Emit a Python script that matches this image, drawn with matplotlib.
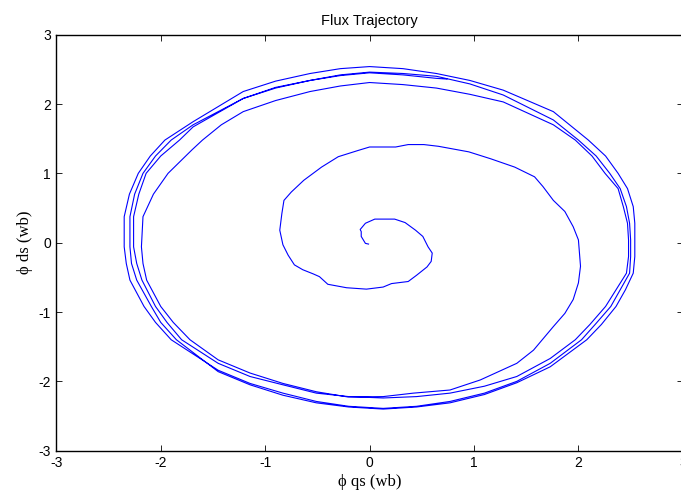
import matplotlib
matplotlib.use("Agg")
import matplotlib.pyplot as plt
import numpy as np

plt.rcParams['axes.unicode_minus'] = False

# trajectory, clockwise from the centre outwards
inner_x = [-0.01, -0.04, -0.06, -0.08, -0.08, -0.09, -0.04, 0.05, 0.24, 0.34, 0.44, 0.51,
           0.56, 0.60, 0.59, 0.55, 0.45, 0.37, 0.21, 0.13, -0.03, -0.22, -0.40, -0.48,
           -0.54, -0.64, -0.72, -0.78, -0.83, -0.86]
inner_y = [-0.02, -0.01, 0.04, 0.09, 0.16, 0.19, 0.28, 0.34, 0.34, 0.29, 0.18, 0.09,
           -0.06, -0.15, -0.27, -0.35, -0.47, -0.56, -0.59, -0.64, -0.67, -0.65, -0.60, -0.49,
           -0.45, -0.39, -0.32, -0.18, -0.03, 0.18]

loop1_x = [-0.84, -0.82, -0.75, -0.63, -0.46, -0.30, -0.11, 0.00, 0.25, 0.37, 0.52, 0.66,
           0.95, 1.16, 1.39, 1.58, 1.66, 1.76, 1.87, 1.95, 2.00, 2.02, 2.00, 1.95, 1.87,
           1.76, 1.57, 1.41, 1.06, 0.77, 0.42, 0.13, -0.21, -0.51, -0.83, -1.145, -1.45,
           -1.72, -1.88, -2.00, -2.135, -2.17, -2.185, -2.17, -2.07, -1.93, -1.70, -1.60,
           -1.42, -1.21, -0.90, -0.57, -0.28]
loop1_y = [0.42, 0.61, 0.73, 0.90, 1.09, 1.24, 1.33, 1.38, 1.38, 1.415, 1.415, 1.39,
           1.31, 1.21, 1.09, 0.95, 0.81, 0.61, 0.45, 0.23, 0.04, -0.34, -0.58, -0.82, -1.02,
           -1.21, -1.55, -1.74, -1.98, -2.125, -2.17, -2.22, -2.225, -2.15, -2.03, -1.88, -1.69,
           -1.40, -1.15, -0.92, -0.54, -0.30, -0.06, 0.375, 0.70, 1.00, 1.34, 1.48,
           1.70, 1.89, 2.05, 2.18, 2.26]

loop2_x = [0.00, 0.32, 0.64, 0.96, 1.28, 1.76, 1.97, 2.13, 2.255, 2.38, 2.43, 2.47, 2.48,
           2.48, 2.46, 2.36, 2.26, 2.11, 1.97, 1.73, 1.41, 1.10, 0.77, 0.45, 0.13, -0.20,
           -0.51, -0.83, -1.145, -1.45, -1.80, -1.94, -2.05, -2.18, -2.23, -2.26, -2.26,
           -2.21, -2.14, -2.00, -1.82, -1.69, -1.21, -0.90, -0.57, -0.28]
loop2_y = [2.31, 2.28, 2.23, 2.14, 2.03, 1.70, 1.48, 1.25, 1.00, 0.78, 0.52, 0.28, 0.04,
           -0.20, -0.44, -0.68, -0.92, -1.18, -1.40, -1.67, -1.93, -2.07, -2.17, -2.22, -2.24, -2.22,
           -2.17, -2.05, -1.93, -1.74, -1.40, -1.15, -0.92, -0.54, -0.30, -0.06, 0.375,
           0.70, 1.00, 1.25, 1.48, 1.67, 2.08, 2.23, 2.34, 2.42]

loop3_x = [0.00, 0.32, 0.64, 0.96, 1.28, 1.76, 2.00, 2.17, 2.30, 2.40, 2.46, 2.49, 2.50,
           2.50, 2.49, 2.40, 2.31, 2.16, 2.03, 1.73, 1.41, 1.10, 0.77, 0.45, 0.13, -0.20,
           -0.51, -0.83, -1.145, -1.45, -1.90, -2.05, -2.16, -2.295, -2.33, -2.35, -2.35,
           -2.30, -2.215, -2.10, -1.96, -1.69, -1.21, -0.90, -0.57, -0.28]
loop3_y = [2.46, 2.44, 2.40, 2.29, 2.13, 1.77, 1.48, 1.25, 1.00, 0.78, 0.52, 0.28, 0.04,
           -0.20, -0.44, -0.68, -0.92, -1.18, -1.40, -1.74, -2.00, -2.17, -2.29, -2.36, -2.39, -2.36,
           -2.29, -2.17, -2.03, -1.84, -1.40, -1.15, -0.92, -0.54, -0.30, -0.06, 0.375,
           0.70, 1.00, 1.25, 1.48, 1.745, 2.18, 2.33, 2.44, 2.51]

loop4_x = [0.00, 0.32, 0.64, 0.96, 1.28, 1.76, 2.095, 2.26, 2.38, 2.47, 2.525, 2.54, 2.54,
           2.54, 2.525, 2.45, 2.36, 2.22, 2.08, 1.73, 1.41, 1.10, 0.77, 0.45, 0.13, -0.20,
           -0.51, -0.83, -1.145, -1.45, -1.85, -2.00, -2.09, -2.23, -2.28, -2.295, -2.295,
           -2.25, -2.17, -2.05, -1.90, -1.69, -1.21, -0.90, -0.57, -0.28, 0.00, 0.32, 0.64, 0.74]
loop4_y = [2.54, 2.51, 2.44, 2.34, 2.20, 1.89, 1.48, 1.25, 1.00, 0.78, 0.52, 0.28, 0.04,
           -0.20, -0.44, -0.68, -0.92, -1.18, -1.40, -1.79, -2.02, -2.19, -2.31, -2.37, -2.40, -2.37,
           -2.31, -2.20, -2.05, -1.86, -1.40, -1.15, -0.92, -0.54, -0.30, -0.06, 0.375,
           0.70, 1.00, 1.25, 1.48, 1.70, 2.08, 2.24, 2.34, 2.41, 2.45, 2.42, 2.37, 2.36]

ticks = [-3, -2, -1, 0, 1, 2, 3]

flux_qs = np.concatenate([inner_x, loop1_x, loop2_x, loop3_x, loop4_x])
flux_ds = np.concatenate([inner_y, loop1_y, loop2_y, loop3_y, loop4_y])

fig = plt.figure(figsize=(6.81, 4.94), dpi=100)
ax = fig.add_axes([0.0827, 0.0877, 0.920, 0.8421])
ax.plot(flux_qs, flux_ds, color='#0000ff', lw=0.8)

ax.set_xlim(-3, 3)
ax.set_ylim(-3, 3)
ax.set_xticks(ticks)
ax.set_yticks(ticks)
ax.tick_params(direction='in', length=4, width=0.6, top=True, right=True,
               labelsize=10, pad=4)
for lab in ax.get_xticklabels() + ax.get_yticklabels():
    lab.set_family('Liberation Sans')
for sp in ax.spines.values():
    sp.set_linewidth(1.0)

ax.set_title('Flux Trajectory', fontsize=10.5, family='Liberation Sans', pad=7)
serif = ['Liberation Serif', 'DejaVu Serif']
ax.set_xlabel('ϕ qs (wb)', fontsize=12, family=serif, labelpad=3)
ax.set_ylabel('ϕ ds (wb)', fontsize=12, family=serif, labelpad=4)

fig.savefig('out.png', dpi=100)
